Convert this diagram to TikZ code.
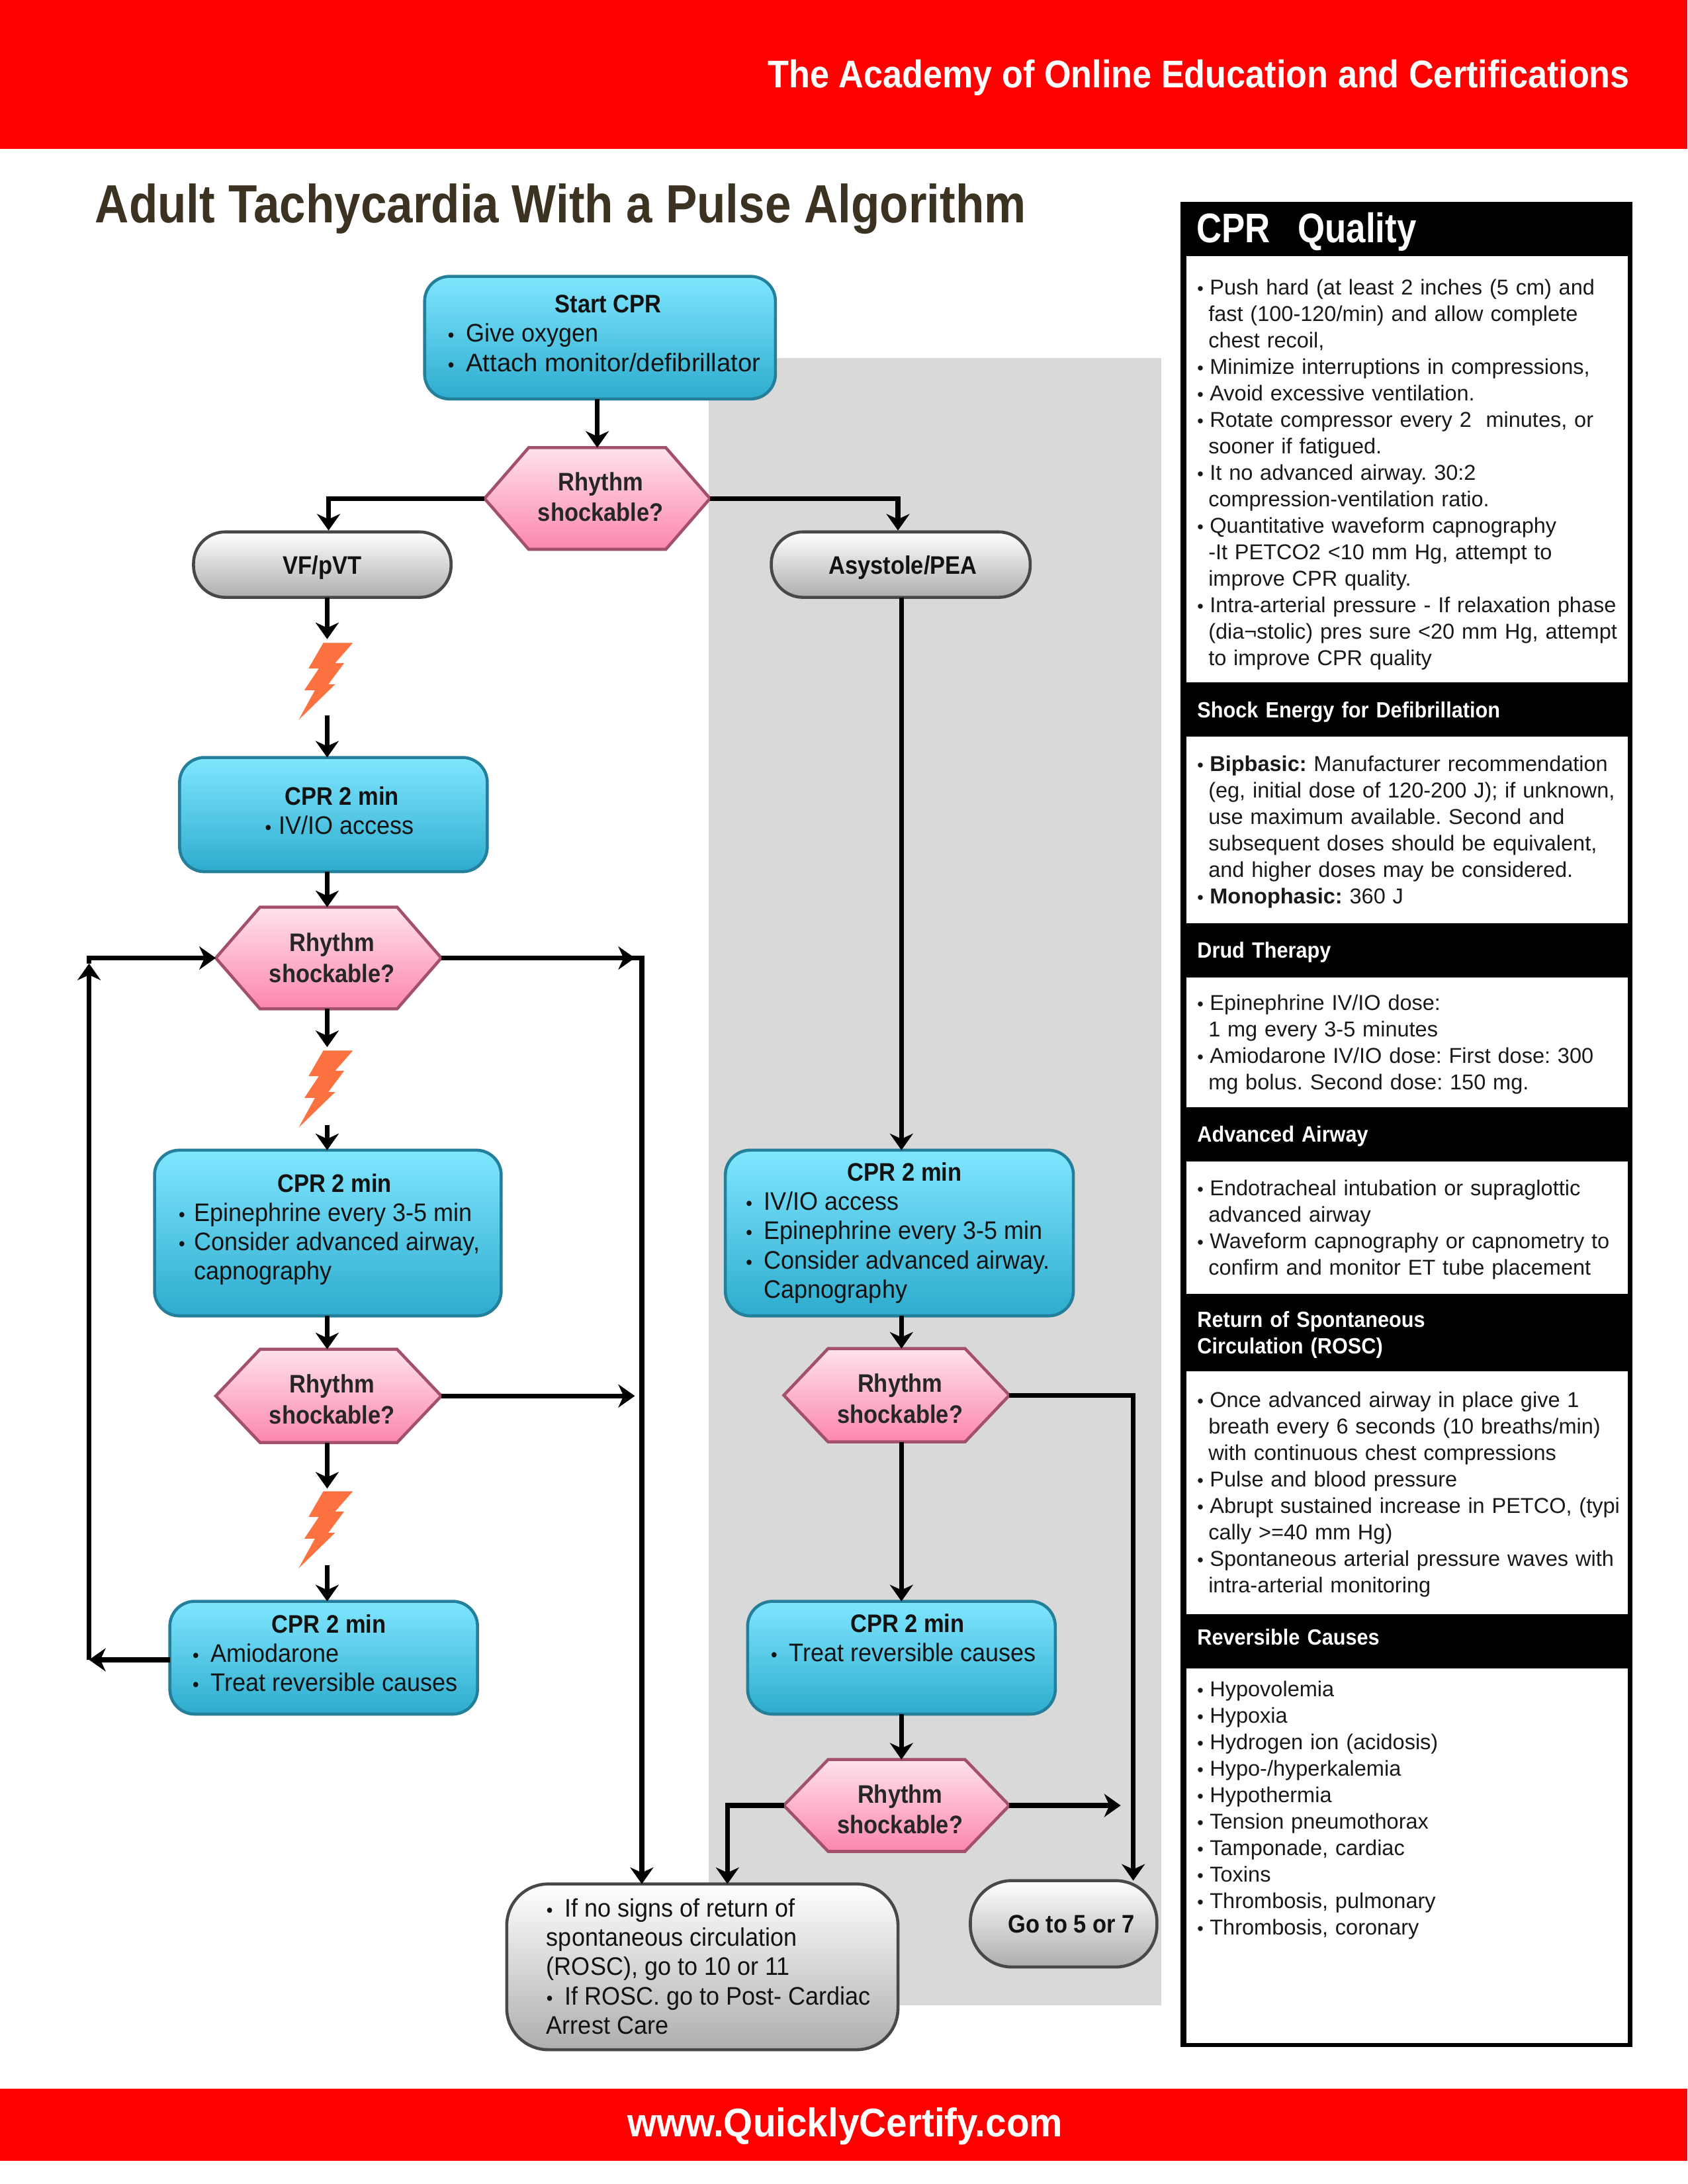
\documentclass[tikz,border=0pt]{standalone}
\usepackage{fontspec}
\usetikzlibrary{arrows.meta,shapes.symbols}
\setmainfont{Liberation Sans}
\newfontfamily\flowf[FakeStretch=0.94]{Liberation Sans}
\newfontfamily\cbold[FakeStretch=0.9]{Liberation Sans}
\newfontfamily\tbold[FakeStretch=0.874]{Liberation Sans}
\newfontfamily\obold[FakeStretch=0.895]{Liberation Sans}
\newfontfamily\wbold[FakeStretch=0.938]{Liberation Sans}
\newfontfamily\qbold[FakeStretch=0.845]{Liberation Sans}
\newfontfamily\hbold[FakeStretch=0.92]{Liberation Sans}
\AtBeginDocument{\frenchspacing}
\newdimen\uu \uu=0.50495pt
\definecolor{bluetop}{HTML}{80E6FF}
\definecolor{bluebot}{HTML}{2DACCE}
\definecolor{blueedge}{HTML}{247F9A}
\definecolor{pinktop}{HTML}{FFE2EC}
\definecolor{pinkbot}{HTML}{FC87AC}
\definecolor{pinkedge}{HTML}{A3506E}
\definecolor{greyedge}{HTML}{4A4747}
\definecolor{greybot}{HTML}{AEAEAE}
\definecolor{panelgrey}{HTML}{D9D9D9}
\definecolor{boltc}{HTML}{FB7240}
\definecolor{titlec}{HTML}{3B3222}
% box text: #1 x shift (doubled), #2 y shift (doubled), #3 lines
\newcommand\bt[3]{\kern#1\uu\vbox{\kern#2\uu\hbox{\begin{tabular}{@{}l@{}}#3\end{tabular}}}}
\newcommand\hd[2]{\hspace*{#1\uu}{\cbold\bfseries #2}}
\newcommand\fb[1][13]{\makebox[#1\uu][l]{{\fontsize{7}{7}\selectfont\textbullet}}}
\newcommand\bl{\hspace*{8\uu}\makebox[9\uu][l]{{\fontsize{6.5}{6.5}\selectfont\textbullet}}}
\newcommand\ind{\hspace*{16\uu}}
\newcommand\rh[1]{\kern5\uu\vbox{\kern#1\uu\hbox{\begin{tabular}{@{}c@{}}Rhythm\\shockable?\end{tabular}}}}
\newcommand\one[3]{\kern#1\uu\vbox{\kern#2\uu\hbox{\cbold\bfseries #3}}}
\newcommand\tp[1]{\rule{0pt}{#1pt}}
\tikzset{
  flowbox/.style={draw,line width=1.1pt,rounded corners=9pt,inner sep=0pt,outer sep=0pt,
     font=\fontsize{9.2}{10.6}\selectfont\flowf,text=black!93},
  bluebox/.style={flowbox,draw=blueedge,top color=bluetop,bottom color=bluebot},
  greybox/.style={flowbox,draw=greyedge,top color=white,bottom color=greybot},
  hexa/.style={signal,signal to=east and west,signal pointer angle=#1,draw=pinkedge,line width=1.1pt,
     top color=pinktop,bottom color=pinkbot,inner sep=0pt,outer sep=0pt,minimum width=162*\uu,
     font=\fontsize{9.2}{11.1}\selectfont\cbold\bfseries,text=black!85},
  sec/.style={fill=white,inner sep=0pt,outer sep=0pt,align=left,text width=317*\uu,minimum width=317*\uu,
     font=\fontsize{7.8}{9.6}\selectfont,text=black!90},
  band/.style={fill=black,text=white,inner ysep=0pt,inner xsep=8*\uu,outer sep=0pt,align=left,text width=301*\uu,
     font=\fontsize{8}{9.6}\selectfont\hbold\bfseries},
  lin/.style={line width=1.75pt,draw=black},
  arr/.style={lin,-{Stealth[length=6pt,width=8.4pt,inset=1.9pt]}},
  bolt/.pic={\fill[boltc] (0,0)--(21.3,0)--(8.5,14.5)--(15,14.5)--(3.6,29.8)--(8.5,29.8)--(-17.7,55.3)
     --(-6,34)--(-13.6,34)--(-3.2,18.4)--(-10.6,18.4)--cycle;}
}
\begin{document}
\begin{tikzpicture}[x=0.50495pt,y=-0.50495pt]
\useasboundingbox (0,0) rectangle (1212,1568.47);
% bars and backgrounds
\fill[red] (0,0) rectangle (1212,107);
\fill[red] (0,1500) rectangle (1212,1552);
\fill[panelgrey] (509,257) rectangle (834,1440);
\node[anchor=east,text=white,font=\fontsize{14}{16}\selectfont\obold\bfseries,inner sep=0pt] (org) at (1171,56) {The Academy of Online Education and Certifications};
\node[text=white,font=\fontsize{14.5}{16}\selectfont\wbold\bfseries,inner sep=0pt] (web) at (607,1527) {www.QuicklyCertify.com};
\node[anchor=west,text=titlec,font=\fontsize{19.5}{22}\selectfont\tbold\bfseries,inner sep=0pt] (title) at (68,150) {Adult Tachycardia With a Pulse Algorithm};
% right panel
\fill[black] (848,145) rectangle (1172.5,1470);
\node[band,minimum height=39*\uu,font=\fontsize{15}{17}\selectfont\qbold\bfseries] (h1) at (1010,166.5) {CPR\ \ Quality};
\node[sec,minimum height=306*\uu] (s1) at (1010.5,337) {%
\tp{9.6}\bl Push hard (at least 2 inches (5 cm) and\\
\ind fast (100-120/min) and allow complete\\
\ind chest recoil,\\
\bl Minimize interruptions in compressions,\\
\bl Avoid excessive ventilation.\\
\bl Rotate compressor every 2\ \ minutes, or\\
\ind sooner if fatigued.\\
\bl It no advanced airway. 30:2\\
\ind compression-ventilation ratio.\\
\bl Quantitative waveform capnography\\
\ind -It PETCO2 <10 mm Hg, attempt to\\
\ind improve CPR quality.\\
\bl Intra-arterial pressure - If relaxation phase\\
\ind (dia¬stolic) pres sure <20 mm Hg, attempt\\
\ind to improve CPR quality};
\node[band,minimum height=39*\uu] (h2) at (1010.5,511.5) {Shock Energy for Defibrillation};
\node[sec,minimum height=134*\uu] (s2) at (1010.5,596) {%
\tp{7.3}\bl\textbf{Bipbasic:} Manufacturer recommendation\\
\ind (eg, initial dose of 120-200 J); if unknown,\\
\ind use maximum available. Second and\\
\ind subsequent doses should be equivalent,\\
\ind and higher doses may be considered.\\
\bl\textbf{Monophasic:} 360 J};
\node[band,minimum height=39*\uu] (h3) at (1010.5,684) {Drud Therapy};
\node[sec,minimum height=93*\uu] (s3) at (1010.5,748.5) {%
\tp{7.3}\bl Epinephrine IV/IO dose:\\
\ind 1 mg every 3-5 minutes\\
\bl Amiodarone IV/IO dose: First dose: 300\\
\ind mg bolus. Second dose: 150 mg.};
\node[band,minimum height=39*\uu] (h4) at (1010.5,816) {Advanced Airway};
\node[sec,minimum height=95*\uu] (s4) at (1010.5,881.5) {%
\tp{7.3}\bl Endotracheal intubation or supraglottic\\
\ind advanced airway\\
\bl Waveform capnography or capnometry to\\
\ind confirm and monitor ET tube placement};
\node[band,minimum height=56*\uu] (h5) at (1010.5,958.5) {Return of Spontaneous\\Circulation (ROSC)};
\node[sec,minimum height=174*\uu] (s5) at (1010.5,1072) {%
\tp{7}\bl Once advanced airway in place give 1\\
\ind breath every 6 seconds (10 breaths/min)\\
\ind with continuous chest compressions\\
\bl Pulse and blood pressure\\
\bl Abrupt sustained increase in PETCO, (typi\\
\ind cally >=40 mm Hg)\\
\bl Spontaneous arterial pressure waves with\\
\ind intra-arterial monitoring};
\node[band,minimum height=30*\uu] (h6) at (1010.5,1175.5) {Reversible Causes};
\node[sec,minimum height=269*\uu] (s6) at (1010.5,1332.5) {%
\bl Hypovolemia\\
\bl Hypoxia\\
\bl Hydrogen ion (acidosis)\\
\bl Hypo-/hyperkalemia\\
\bl Hypothermia\\
\bl Tension pneumothorax\\
\bl Tamponade, cardiac\\
\bl Toxins\\
\bl Thrombosis, pulmonary\\
\bl Thrombosis, coronary\\[24.7pt]\mbox{}};
% flow nodes
\node[bluebox,minimum width=252*\uu,minimum height=88*\uu] (start) at (431,242.5) {\bt{6}{-2}{\hd{77}{Start CPR}\\\fb Give oxygen\\\fb {\rmfamily Attach monitor/defibrillator}}};
\node[hexa=98,minimum height=73*\uu] (hex1) at (429,358) {\rh{2}};
\node[greybox,rounded corners=11.5pt,minimum width=185*\uu,minimum height=47*\uu] (vf) at (231.5,405.5) {\one{0}{4}{VF/pVT}};
\node[greybox,rounded corners=11.5pt,minimum width=186*\uu,minimum height=47*\uu] (asys) at (647,405.5) {\one{3}{4}{Asystole/PEA}};
\pic at (232.2,461.7) {bolt};
\node[bluebox,minimum width=221*\uu,minimum height=82*\uu] (cpr1) at (239.5,585) {\bt{9}{-1}{\hd{14}{CPR 2 min}\\\fb[10]IV/IO access}};
\node[hexa=98,minimum height=73*\uu] (hex2) at (236,688) {\rh{4}};
\pic at (232.2,754.5) {bolt};
\node[bluebox,minimum width=249*\uu,minimum height=119*\uu] (cpr2) at (235.5,885.5) {\bt{2}{-4}{\hd{71}{CPR 2 min}\\\fb[11]Epinephrine every 3-5 min\\\fb[11]Consider advanced airway,\\\hspace*{11\uu}capnography}};
\node[hexa=93,minimum height=67*\uu] (hex3) at (236,1002.5) {\rh{9}};
\pic at (232.2,1071) {bolt};
\node[bluebox,minimum width=221*\uu,minimum height=81*\uu] (cpr4) at (232.5,1190.5) {\bt{2}{-2}{\hd{57}{CPR 2 min}\\\fb Amiodarone\\\fb Treat reversible causes}};
\node[bluebox,minimum width=250*\uu,minimum height=119*\uu] (cpr3) at (646,885.5) {\bt{-2}{1}{\hd{73}{CPR 2 min}\\\fb IV/IO access\\\fb Epinephrine every 3-5 min\\\fb Consider advanced airway.\\\hspace*{13\uu}Capnography}};
\node[hexa=93,minimum height=67*\uu] (hex4) at (644,1002) {\rh{9}};
\node[bluebox,minimum width=221*\uu,minimum height=81*\uu] (cpr5) at (647.5,1190.5) {\bt{3}{-24}{\hd{57}{CPR 2 min}\\\fb Treat reversible causes}};
\node[hexa=92,minimum height=66*\uu] (hex5) at (644,1296.6) {\rh{10}};
\node[greybox,rounded corners=15pt,minimum width=281*\uu,minimum height=119*\uu] (rosc) at (504.5,1412.5) {\bt{9}{4}{\fb If no signs of return of\\spontaneous circulation\\(ROSC), go to 10 or 11\\\fb If ROSC. go to Post- Cardiac\\Arrest Care}};
\node[greybox,rounded corners=15pt,minimum width=134*\uu,minimum height=62*\uu] (goto) at (764,1381.6) {\one{11}{0}{Go to 5 or 7}};
% connector helpers
\coordinate (xl) at (235,0);
\coordinate (xm) at (647.5,0);
\coordinate (xr) at (461,0);
\coordinate (xg) at (814,0);
\coordinate (xa) at (522.5,0);
\coordinate (xo) at (64,0);
\coordinate (a1) at (236,381);
\coordinate (a2) at (645,381);
\coordinate (b1t) at (235,459);
\coordinate (b1b) at (235,514);
\coordinate (b2t) at (235,752);
\coordinate (b2b) at (235,808);
\coordinate (b3t) at (235,1069);
\coordinate (b3b) at (235,1124);
\coordinate (t2) at (456,688);
\coordinate (lo) at (64,1192);
\coordinate (lu) at (64,692);
\coordinate (e5) at (805,1296.6);
% connectors
\draw[arr] (start.south -| hex1.north) -- (hex1.north);
\draw[arr] (hex1.west) -| (a1);
\draw[arr] (hex1.east) -| (a2);
\draw[arr] (vf.south -| xl) -- (b1t);
\draw[arr] (b1b) -- (cpr1.north -| xl);
\draw[arr] (cpr1.south -| xl) -- (hex2.north -| xl);
\draw[arr] (hex2.south -| xl) -- (b2t);
\draw[arr] (b2b) -- (cpr2.north -| xl);
\draw[arr] (cpr2.south -| xl) -- (hex3.north -| xl);
\draw[arr] (hex3.south -| xl) -- (b3t);
\draw[arr] (b3b) -- (cpr4.north -| xl);
\draw[arr] (hex2.east) -- (t2);
\draw[arr] (hex2.east) -| (rosc.north -| xr);
\draw[arr] (hex3.east) -- (hex3.east -| t2);
\draw[arr] (lo -| cpr4.west) -- (lo);
\draw[arr] (lo) -- (lu);
\draw[arr] (lu) |- (hex2.west);
\draw[arr] (asys.south -| xm) -- (cpr3.north -| xm);
\draw[arr] (cpr3.south -| xm) -- (hex4.north -| xm);
\draw[arr] (hex4.south -| xm) -- (cpr5.north -| xm);
\draw[arr] (cpr5.south -| xm) -- (hex5.north -| xm);
\draw[arr] (hex4.east) -| (goto.north -| xg);
\draw[arr] (hex5.east) -- (e5);
\draw[arr] (hex5.west) -| (rosc.north -| xa);
\end{tikzpicture}
\end{document}
